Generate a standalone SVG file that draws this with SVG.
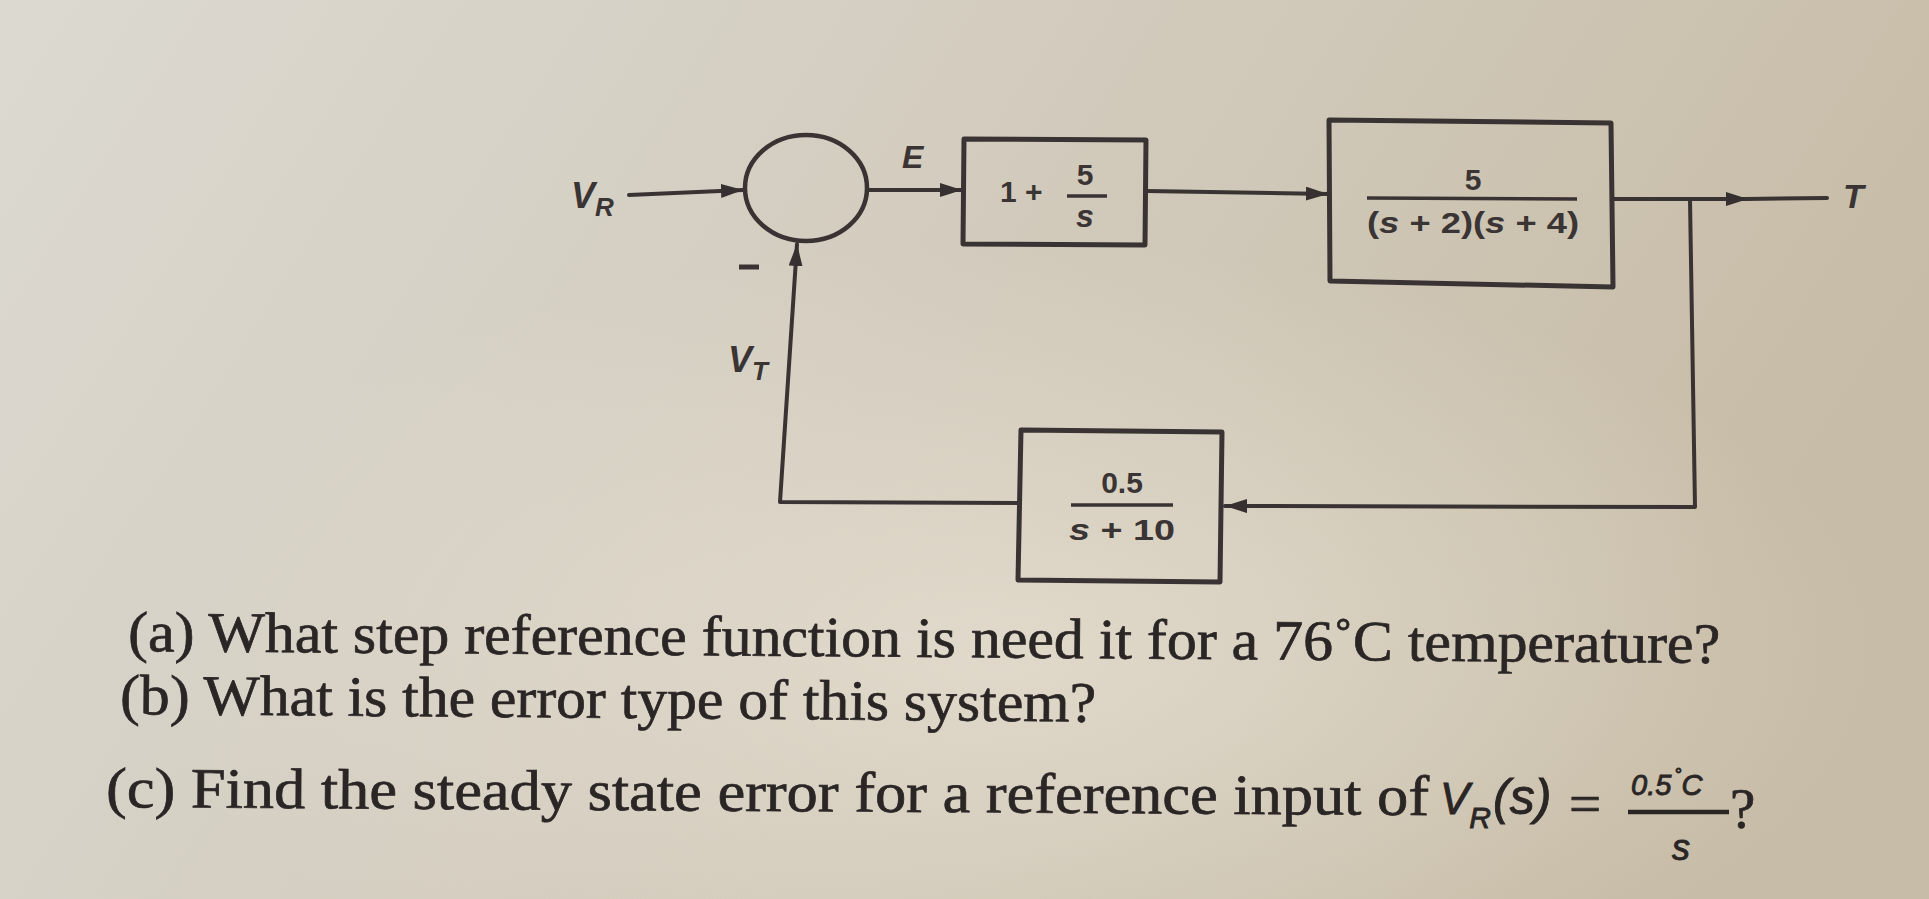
<svg xmlns="http://www.w3.org/2000/svg" width="1929" height="899" viewBox="0 0 1929 899">
<defs>
<linearGradient id="paper" x1="0" y1="0" x2="1" y2="0.3">
<stop offset="0" stop-color="#dcd9d1"/>
<stop offset="0.45" stop-color="#d4cec1"/>
<stop offset="1" stop-color="#c7bca7"/>
</linearGradient>
<radialGradient id="glow" cx="0.52" cy="0.72" r="0.45">
<stop offset="0" stop-color="#e6e0d2" stop-opacity="0.75"/>
<stop offset="1" stop-color="#e6e0d2" stop-opacity="0"/>
</radialGradient>
<marker id="arr" markerUnits="userSpaceOnUse" markerWidth="24" markerHeight="14" refX="22" refY="7" orient="auto">
<path d="M0,0 L22,7 L0,14 Z" fill="#363030"/>
</marker>
<style>
.ln{fill:none;stroke:#3a3333;stroke-width:4;stroke-linecap:round;stroke-linejoin:round}
.bx{fill:none;stroke:#3a3333;stroke-width:5;stroke-linejoin:round}
.lbl{font-family:"Liberation Sans",Arial,sans-serif;font-weight:bold;fill:#3a3434}
.it{font-style:italic}
.q{font-family:"Liberation Serif","Times New Roman",serif;font-size:57px;fill:#2b2626;stroke:#2b2626;stroke-width:0.7}
.eq{font-family:"Liberation Sans",Arial,sans-serif;font-style:italic;fill:#2b2626;stroke:#2b2626;stroke-width:0.9}
.bar{stroke:#3a3333;stroke-width:3.5}
</style>
</defs>
<rect width="1929" height="899" fill="url(#paper)"/>
<rect width="1929" height="899" fill="url(#glow)"/>

<g id="connectors">
<path class="ln" d="M629,195 L743,190" marker-end="url(#arr)"/>
<path class="ln" d="M867,190 L962,190" marker-end="url(#arr)"/>
<path class="ln" d="M1146,191 L1328,194" marker-end="url(#arr)"/>
<path class="ln" d="M1612,199 L1748,199" marker-end="url(#arr)"/>
<path class="ln" d="M1746,199 L1827,198"/>
<path class="ln" d="M1690,200 L1695,507 L1225,506" marker-end="url(#arr)"/>
<path class="ln" d="M1020,503 L780,502 L797,244" marker-end="url(#arr)"/>
</g>

<g id="input-VR">
<text class="lbl it" x="571" y="208" font-size="36">V<tspan font-size="26" dy="8">R</tspan></text>
</g>

<g id="sum">
<ellipse cx="806" cy="188" rx="61" ry="53" fill="none" stroke="#3a3333" stroke-width="4.5"/>
<line x1="739" y1="267" x2="759" y2="267" stroke="#3a3333" stroke-width="5"/>
</g>

<g id="label-E">
<text class="lbl it" x="902" y="168" font-size="32">E</text>
</g>

<g id="controller">
<path class="bx" d="M964,139 L1146,140 L1145,245 L963,244 Z"/>
<text class="lbl" x="1000" y="202" font-size="30">1 +</text>
<text class="lbl" x="1085" y="185" font-size="30" text-anchor="middle">5</text>
<line class="bar" x1="1067" y1="196" x2="1107" y2="196"/>
<text class="lbl it" x="1085" y="227" font-size="32" text-anchor="middle">s</text>
</g>

<g id="plant">
<path class="bx" d="M1329,120 L1611,123 L1613,287 L1330,281 Z"/>
<text class="lbl" x="1473" y="190" font-size="30" text-anchor="middle">5</text>
<line class="bar" x1="1367" y1="198" x2="1577" y2="199"/>
<text class="lbl" x="1367" y="233" font-size="30" textLength="212" lengthAdjust="spacingAndGlyphs">(<tspan font-style="italic">s</tspan> + 2)(<tspan font-style="italic">s</tspan> + 4)</text>
</g>

<g id="output-T">
<text class="lbl it" x="1843" y="208" font-size="34">T</text>
</g>

<g id="sensor">
<path class="bx" d="M1021,430 L1222,432 L1220,582 L1018,580 Z"/>
<text class="lbl" x="1122" y="493" font-size="30" text-anchor="middle">0.5</text>
<line class="bar" x1="1071" y1="505" x2="1173" y2="505"/>
<text class="lbl" x="1069" y="540" font-size="30" textLength="106" lengthAdjust="spacingAndGlyphs"><tspan font-style="italic">s</tspan> + 10</text>
</g>

<g id="feedback-VT">
<text class="lbl it" x="728" y="372" font-size="36">V<tspan font-size="26" dy="8">T</tspan></text>
</g>

<g id="questions">
<text class="q" x="128" y="651" textLength="1592" lengthAdjust="spacingAndGlyphs" transform="rotate(0.43 128 651)">(a) What step reference function is need it for a 76˚C temperature?</text>
<text class="q" x="120" y="714" textLength="976" lengthAdjust="spacingAndGlyphs" transform="rotate(0.45 120 714)">(b) What is the error type of this system?</text>
<text class="q" x="106" y="807" textLength="1323" lengthAdjust="spacingAndGlyphs" transform="rotate(0.35 106 807)">(c) Find the steady state error for a reference input of</text>
<text class="eq" x="1440" y="814" font-size="44">V<tspan font-size="30" dy="14">R</tspan><tspan font-size="50" dy="-14" dx="2">(s)</tspan></text>
<text class="q" x="1569" y="823">=</text>
<text class="eq" x="1631" y="795" font-size="29" font-style="normal">0.5<tspan font-size="18" dy="-14" dx="3">°</tspan><tspan font-size="29" dy="14" font-style="italic">C</tspan></text>
<line x1="1628" y1="812" x2="1729" y2="812" stroke="#2b2626" stroke-width="4.5"/>
<text class="eq" x="1681" y="860" font-size="36" text-anchor="middle">s</text>
<text class="q" x="1730" y="828" font-size="52">?</text>
</g>
</svg>
